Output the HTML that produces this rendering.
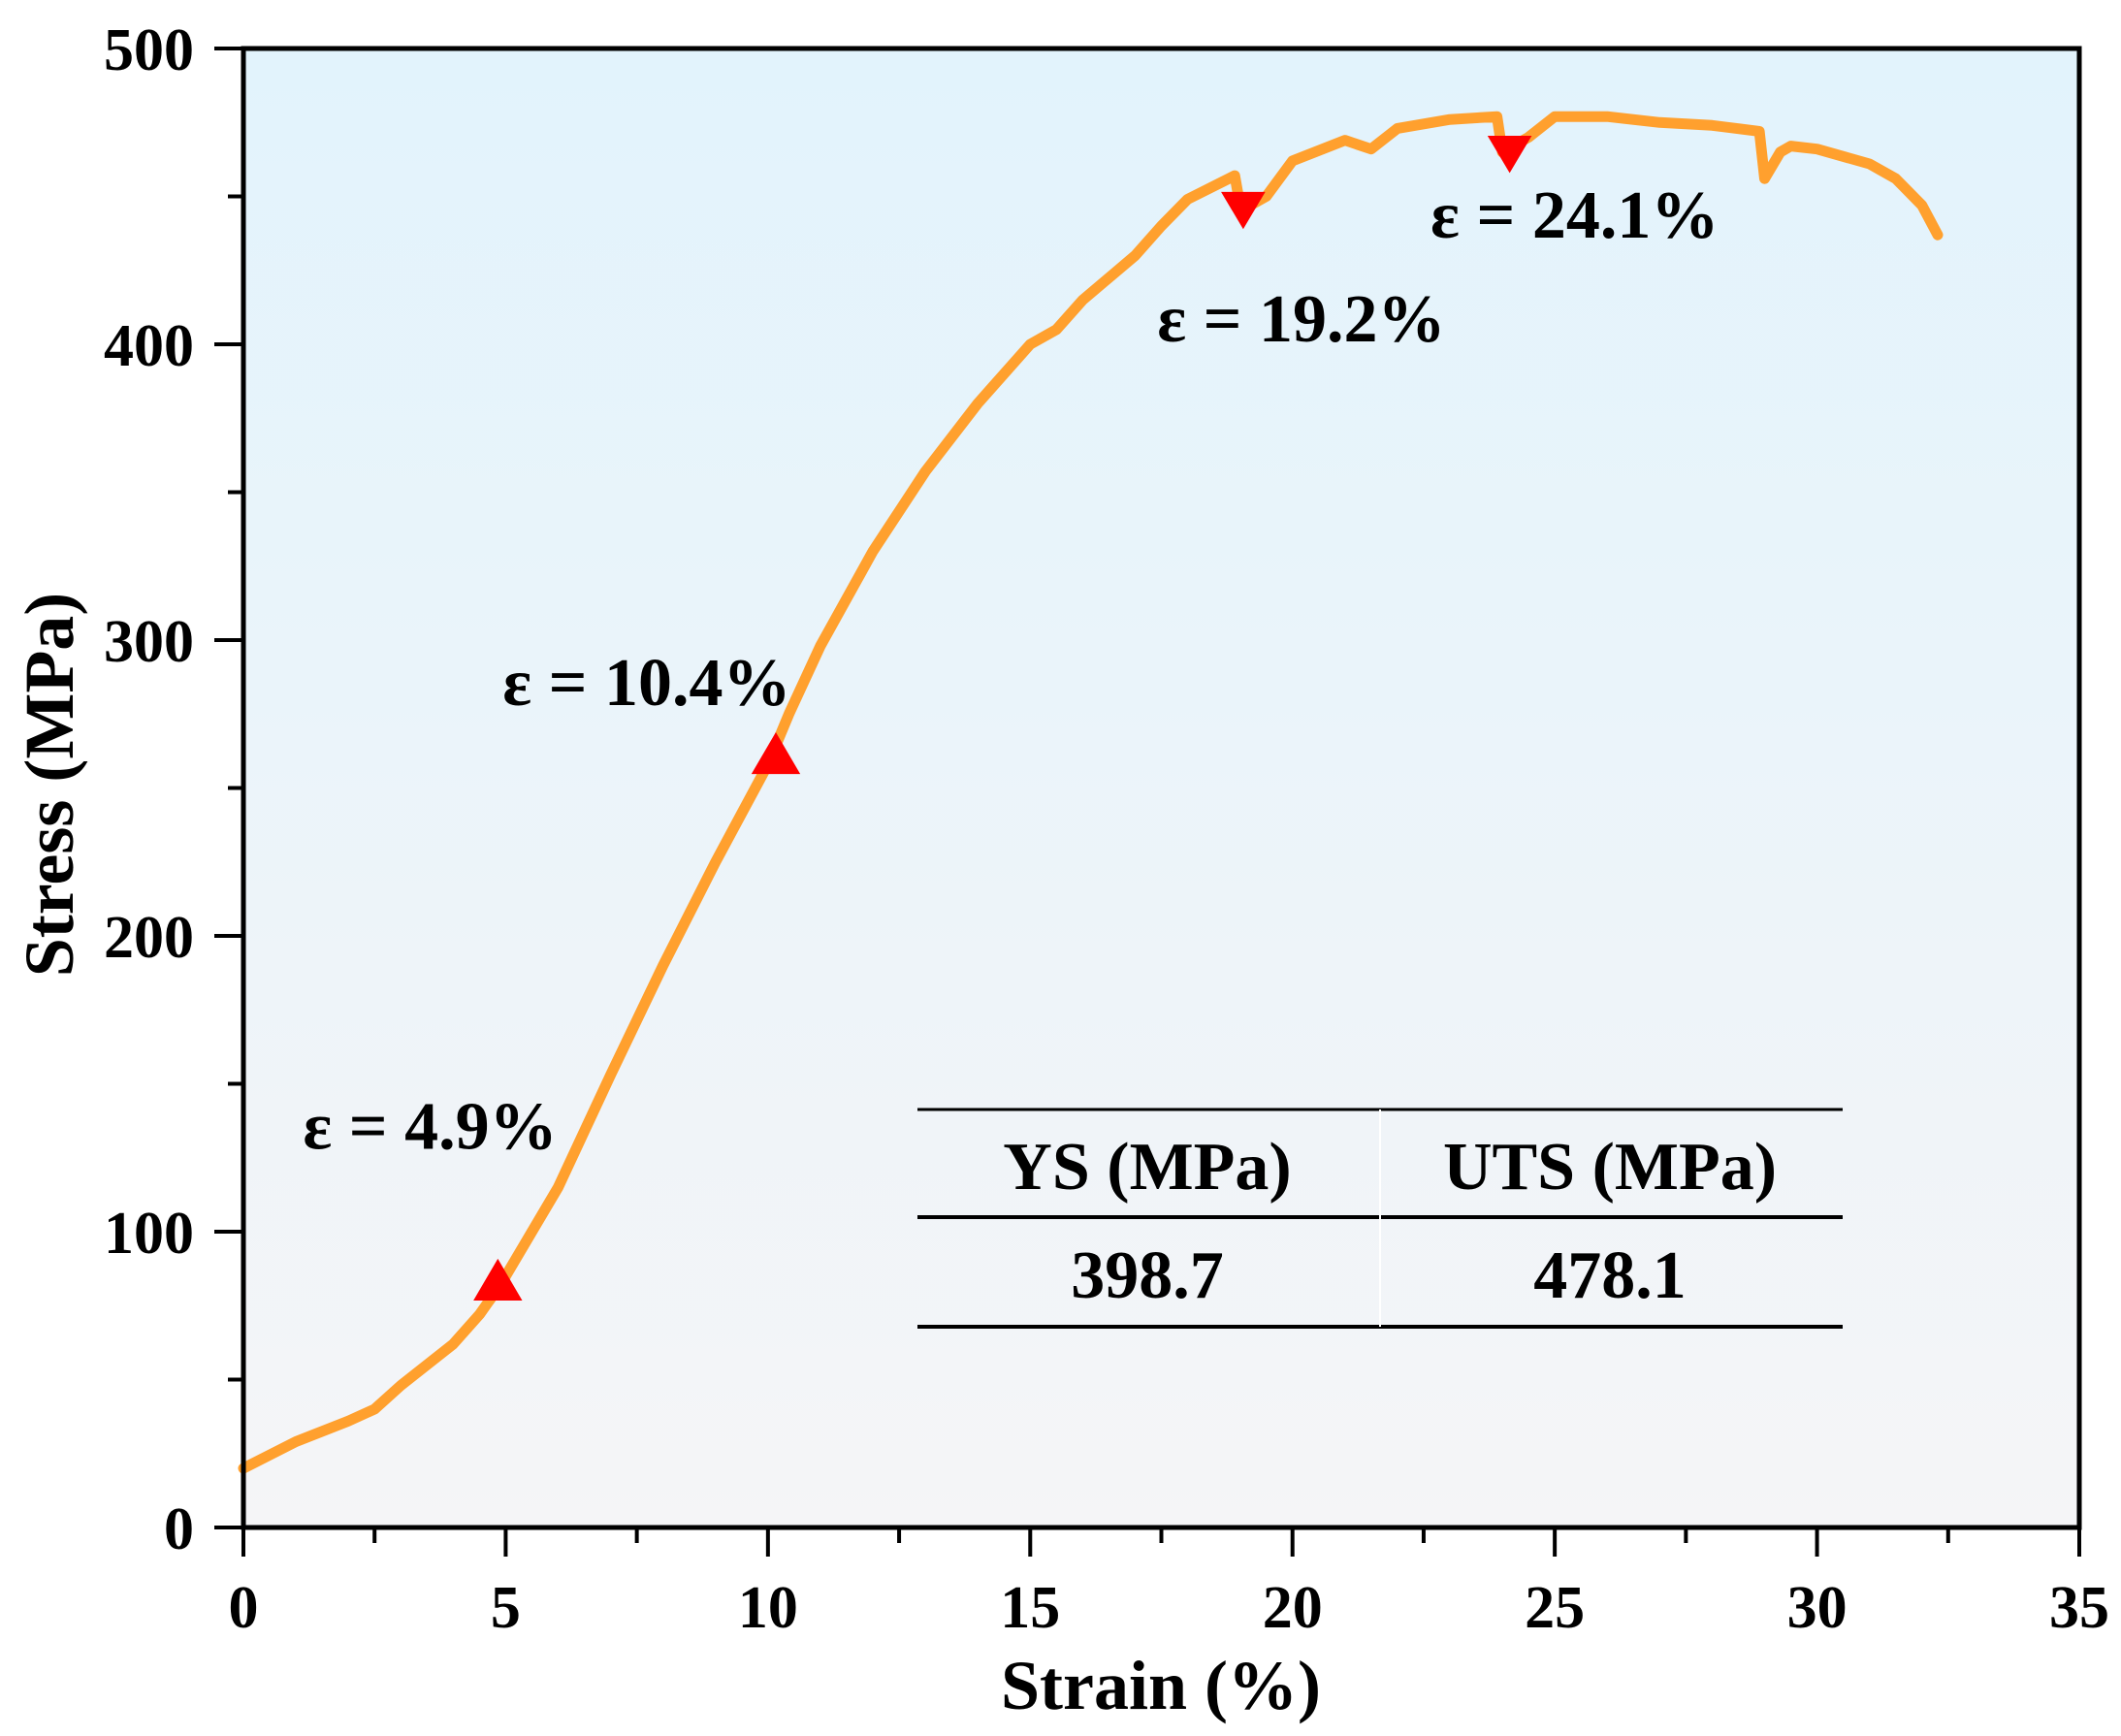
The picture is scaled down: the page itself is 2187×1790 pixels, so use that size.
<!DOCTYPE html>
<html><head><meta charset="utf-8"><style>
html,body{margin:0;padding:0;background:#fff;}
svg{display:block;font-family:"Liberation Serif",serif;font-weight:bold;}
</style></head><body>
<svg id="chart" width="2187" height="1790" viewBox="0 0 2187 1790">
<defs><linearGradient id="bg" x1="0" y1="0" x2="0" y2="1">
<stop offset="0" stop-color="#e2f3fc"/><stop offset="1" stop-color="#f5f5f7"/></linearGradient></defs>
<rect x="251" y="50" width="1893" height="1525" fill="url(#bg)"/>
<g id="marks"></g>
<g id="axes"></g>
<g font-size="70">
<line x1="946" y1="1144" x2="1900" y2="1144" stroke="#000" stroke-width="3"/>
<line x1="946" y1="1255" x2="1900" y2="1255" stroke="#000" stroke-width="4"/>
<line x1="946" y1="1368" x2="1900" y2="1368" stroke="#000" stroke-width="4"/>
<line x1="1423" y1="1144" x2="1423" y2="1368" stroke="#fff" stroke-width="2"/>
<text x="1183" y="1226" text-anchor="middle">YS (MPa)</text>
<text x="1660" y="1226" text-anchor="middle">UTS (MPa)</text>
<text x="1183" y="1338" text-anchor="middle">398.7</text>
<text x="1660" y="1338" text-anchor="middle">478.1</text>
</g>
<text x="1197" y="1762" font-size="72" text-anchor="middle">Strain (%)</text>
<text transform="translate(75,809) rotate(-90)" font-size="72" text-anchor="middle">Stress (MPa)</text>
</svg>
<script>
const strain=[0,1,2,2.5,3,4,4.5,4.9,6,7,8,9,10,10.4,11,12,13,14,15,15.5,16,17,17.5,18,18.9,19,19.2,19.5,20,21,21.5,22,23,23.9,24,24.5,25,26,27,28,28.9,29,29.3,29.5,30,31,31.5,32,32.3];
const stress=[20,29,36,40,48,62,72,82,115,153,190,225,258,275,298,330,357,380,400,405,415,430,440,449,457,447,447,450,462,469,466,473,476,477,465,470,477,477,475,474,472,456,465,467,466,461,456,447,437];
const markerStrain=[4.85,10.15,19.06,24.14];
const markerStress=[83,261,446,465];
const markerDir=["up","up","down","down"];
const labelText=["ε = 4.9%","ε = 10.4%","ε = 19.2%","ε = 24.1%"];
const labelStrain=[3.56,7.69,20.17,25.38];
const labelStress=[128,278,401,436];
const xTicks=[0,5,10,15,20,25,30,35];
const yTicks=[0,100,200,300,400,500];
const X0=251,X1=2144,Y0=1575,Y1=50;
const sx=v=>X0+(v/35)*(X1-X0);
const sy=v=>Y0-(v/500)*(Y0-Y1);
const NS="http://www.w3.org/2000/svg";
function mk(tag,attrs,parent){const e=document.createElementNS(NS,tag);for(const k in attrs)e.setAttribute(k,attrs[k]);parent.appendChild(e);return e;}
const marks=document.getElementById('marks'),axes=document.getElementById('axes');
let d=strain.map((s,i)=>(i?'L':'M')+sx(s).toFixed(1)+','+sy(stress[i]).toFixed(1)).join('');
const curve=mk('path',{d:d,fill:'none',stroke:'#ffa02e','stroke-width':11,'stroke-linejoin':'round','stroke-linecap':'round'},marks);


markerStrain.forEach((s,i)=>{const x=sx(s),y=sy(markerStress[i]),r=24;
 const p=markerDir[i]==='up'?`M${x},${y-r}L${x+r*1.05},${y+r*0.8}L${x-r*1.05},${y+r*0.8}Z`:`M${x},${y+r*0.9}L${x+r*0.95},${y-r*0.7}L${x-r*0.95},${y-r*0.7}Z`;
 const t=mk('path',{d:p,fill:'#f00'},marks);
 
 
});
labelText.forEach((s,i)=>{const t=mk('text',{x:sx(labelStrain[i]),y:sy(labelStress[i]),'font-size':70,'text-anchor':'middle'},marks);t.textContent=s;
 
 
});
mk('rect',{x:X0,y:Y1,width:X1-X0,height:Y0-Y1,fill:'none',stroke:'#000','stroke-width':5},axes);
for(let v=0;v<=35;v+=2.5){const maj=v%5===0;mk('line',{x1:sx(v),x2:sx(v),y1:Y0,y2:Y0+(maj?30:16),stroke:'#000','stroke-width':4},axes);}
for(let v=0;v<=500;v+=50){const maj=v%100===0;mk('line',{x1:X0,x2:X0-(maj?30:16),y1:sy(v),y2:sy(v),stroke:'#000','stroke-width':4},axes);}
xTicks.forEach(v=>{const t=mk('text',{x:sx(v),y:1678,'font-size':62,'text-anchor':'middle'},axes);t.textContent=v;
 
 });
yTicks.forEach(v=>{const t=mk('text',{x:200,y:sy(v)+22,'font-size':62,'text-anchor':'end'},axes);t.textContent=v;
 
 });
</script>
</body></html>
